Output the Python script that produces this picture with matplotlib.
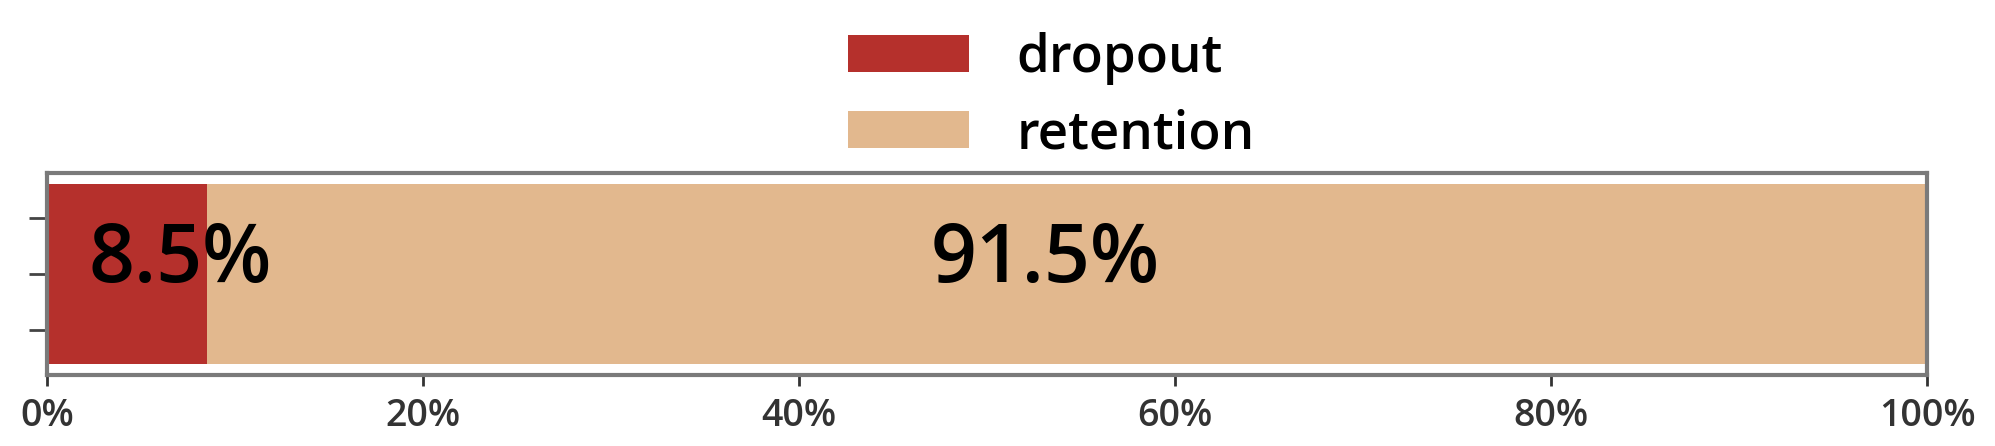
import matplotlib.pyplot as plt
from matplotlib.ticker import PercentFormatter

# data
labels = ['dropout', 'retention']
shares = [8.5, 91.5]
colors = ['#b5302c', '#e2b88e']
xticks = [0, 20, 40, 60, 80, 100]

plt.rcParams['font.family'] = ['Open Sans', 'DejaVu Sans']
plt.rcParams['font.weight'] = 'semibold'

fig = plt.figure(figsize=(19.95, 4.46), dpi=100)
ax = fig.add_axes([0.0236, 0.159, 0.9424, 0.453])

# label nudges (points) so they sit like the original
nudge = [38, -16]

left = 0
for lab, val, col, dx in zip(labels, shares, colors, nudge):
    ax.barh(0, val, left=left, height=0.8, color=col, label=lab)
    ax.annotate(f'{val}%', (left + val / 2, 0.06), xytext=(dx, 0),
                textcoords='offset points', ha='center', va='center',
                fontsize=58, color='black')
    left += val

ax.set_xlim(0, 100)
ax.set_ylim(-0.45, 0.45)
ax.set_xticks(xticks)
ax.xaxis.set_major_formatter(PercentFormatter(decimals=0))
ax.set_yticks([-0.25, 0, 0.25])
ax.set_yticklabels([])
ax.tick_params(axis='x', labelsize=27, length=8, width=2, colors='#333333',
               pad=8)
ax.tick_params(axis='y', length=13, width=2, colors='#444444')
for s in ax.spines.values():
    s.set_color('#7a7a7a')
    s.set_linewidth(3)

fig.legend(loc='upper center', bbox_to_anchor=(0.527, 1.0), frameon=False,
           fontsize=38, handlelength=2.3, handleheight=0.7,
           handletextpad=0.9, labelspacing=0.45, borderpad=0.1)

fig.savefig('out.png', dpi=100)
